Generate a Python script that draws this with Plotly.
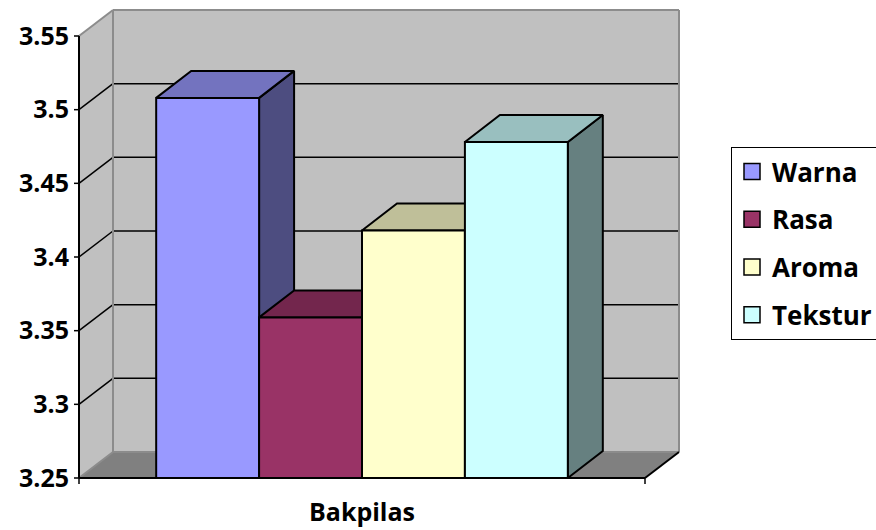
import plotly.graph_objects as go

# ---- data -------------------------------------------------------------
CATEGORY = "Bakpilas"
SERIES = ["Warna", "Rasa", "Aroma", "Tekstur"]
VALUES = [3.508, 3.359, 3.418, 3.478]
Y_TICKS = [3.25, 3.30, 3.35, 3.40, 3.45, 3.50, 3.55]
Y_TICK_TEXT = ["3.25", "3.3", "3.35", "3.4", "3.45", "3.5", "3.55"]

# ---- styling ----------------------------------------------------------
FRONT = ["#9999FF", "#993366", "#FFFFCC", "#CCFFFF"]
TOP = ["#7373BF", "#73264D", "#BFBF99", "#99BFBF"]
SIDE = ["#4D4D80", "#4D1A33", "#808066", "#668080"]
WALL = "#C0C0C0"
FLOOR = "#808080"
EDGE = "#8C8C8C"
FONT = "Open Sans"

W, H = 876, 530
M_L, M_R, M_T, M_B = 70, 186, 6, 42
PX_X0, PX_X1 = 79, 645        # front edge of the category band
PX_Y0, PX_Y1 = 478, 36        # first / last value tick on the front plane

y_lo, y_hi = Y_TICKS[0], Y_TICKS[-1]
sx = PX_X1 - PX_X0                       # px per category unit
sy = (PX_Y0 - PX_Y1) / (y_hi - y_lo)     # px per value unit

x_range = [(M_L - PX_X0) / sx, (W - M_R - PX_X0) / sx]
y_range = [y_lo - (H - M_B - PX_Y0) / sy, y_lo + (PX_Y0 - M_T) / sy]

# depth of the 3-D box and of the columns, in axis units
WDX, WDY = 34 / sx, 26 / sy
BDX, BDY = 35 / sx, 27 / sy
GAP = 1.5
bw = 1 / (len(SERIES) + GAP)


def poly(xs, ys, fill, line_color="black", line_width=2, **kw):
    return go.Scatter(x=xs + [xs[0]], y=ys + [ys[0]], mode="lines",
                      fill="toself", fillcolor=fill,
                      line=dict(color=line_color, width=line_width),
                      hoverinfo="skip", showlegend=False, **kw)


def segments(segs, color, width):
    xs, ys = [], []
    for (xa, ya), (xb, yb) in segs:
        xs += [xa, xb, None]
        ys += [ya, yb, None]
    return go.Scatter(x=xs, y=ys, mode="lines",
                      line=dict(color=color, width=width),
                      hoverinfo="skip", showlegend=False)


traces = []

# walls and floor
traces.append(poly([WDX, 1 + WDX, 1 + WDX, WDX],
                   [y_lo + WDY, y_lo + WDY, y_hi + WDY, y_hi + WDY],
                   WALL, WALL, 0))
traces.append(poly([0, WDX, WDX, 0],
                   [y_lo, y_lo + WDY, y_hi + WDY, y_hi], WALL, WALL, 0))
traces.append(poly([0, 1, 1 + WDX, WDX],
                   [y_lo, y_lo, y_lo + WDY, y_lo + WDY], FLOOR, FLOOR, 0))

# gridlines on the back and side walls
grid = []
for t in Y_TICKS[1:-1]:
    grid.append(((WDX, t + WDY), (1 + WDX, t + WDY)))
    grid.append(((0, t), (WDX, t + WDY)))
traces.append(segments(grid, "black", 1.5))

# wall outlines
traces.append(segments([
    ((WDX, y_lo + WDY), (WDX, y_hi + WDY)),
    ((WDX, y_hi + WDY), (1 + WDX, y_hi + WDY)),
    ((1 + WDX, y_hi + WDY), (1 + WDX, y_lo + WDY)),
    ((0, y_hi), (WDX, y_hi + WDY)),
    ((WDX, y_lo + WDY), (1 + WDX, y_lo + WDY)),
    ((0, y_lo), (WDX, y_lo + WDY)),
], EDGE, 2))

# value axis and front floor edges
traces.append(segments([
    ((0, y_lo), (0, y_hi)),
    ((0, y_lo), (1, y_lo)),
    ((1, y_lo), (1 + WDX, y_lo + WDY)),
], "black", 2))

# columns, drawn left to right so nearer faces cover the ones behind
for i, (name, v) in enumerate(zip(SERIES, VALUES)):
    x0 = GAP / 2 * bw + i * bw
    x1 = x0 + bw
    traces.append(poly([x1, x1 + BDX, x1 + BDX, x1],
                       [y_lo, y_lo + BDY, v + BDY, v], SIDE[i]))
    traces.append(poly([x0, x1, x1 + BDX, x0 + BDX],
                       [v, v, v + BDY, v + BDY], TOP[i]))
    traces.append(poly([x0, x1, x1, x0], [y_lo, y_lo, v, v], FRONT[i],
                       legendgroup=name))

# tick marks
tx = 5 / sx
ty = 6 / sy
ticks = [((-tx, t), (0, t)) for t in Y_TICKS]
ticks += [((0, y_lo), (0, y_lo - ty)), ((1, y_lo), (1, y_lo - ty))]
traces.append(segments(ticks, "black", 1.5))

# legend entries
for i, name in enumerate(SERIES):
    traces.append(go.Scatter(
        x=[None], y=[None], mode="markers", name=name, legendgroup=name,
        marker=dict(symbol="square", size=16, color=FRONT[i],
                    line=dict(color="black", width=1.5))))

fig = go.Figure(traces)
fig.update_layout(
    width=W, height=H,
    margin=dict(l=M_L, r=M_R, t=M_T, b=M_B, pad=0, autoexpand=False),
    paper_bgcolor="white", plot_bgcolor="white",
    font=dict(family=FONT, color="black"),
    showlegend=True,
    legend=dict(
        xref="container", yref="container",
        x=731 / W, y=1 - 147 / H, xanchor="left", yanchor="top",
        bordercolor="black", borderwidth=1, bgcolor="white",
        font=dict(family=FONT, size=26, weight="bold", color="black"),
        tracegroupgap=11, itemclick=False, itemdoubleclick=False,
    ),
    xaxis=dict(range=x_range, showgrid=False, zeroline=False,
               showline=False, ticks="", tickvals=[0.5],
               ticktext=[CATEGORY], ticklabelstandoff=7, automargin=False,
               tickfont=dict(family=FONT, size=25, weight="bold"),
               fixedrange=True),
    yaxis=dict(range=y_range, showgrid=False, zeroline=False,
               showline=False, ticks="", tickvals=Y_TICKS,
               ticktext=Y_TICK_TEXT, ticklabelstandoff=0, automargin=False,
               tickfont=dict(family=FONT, size=25, weight="bold"),
               fixedrange=True),
)

fig.write_html("out.html")
